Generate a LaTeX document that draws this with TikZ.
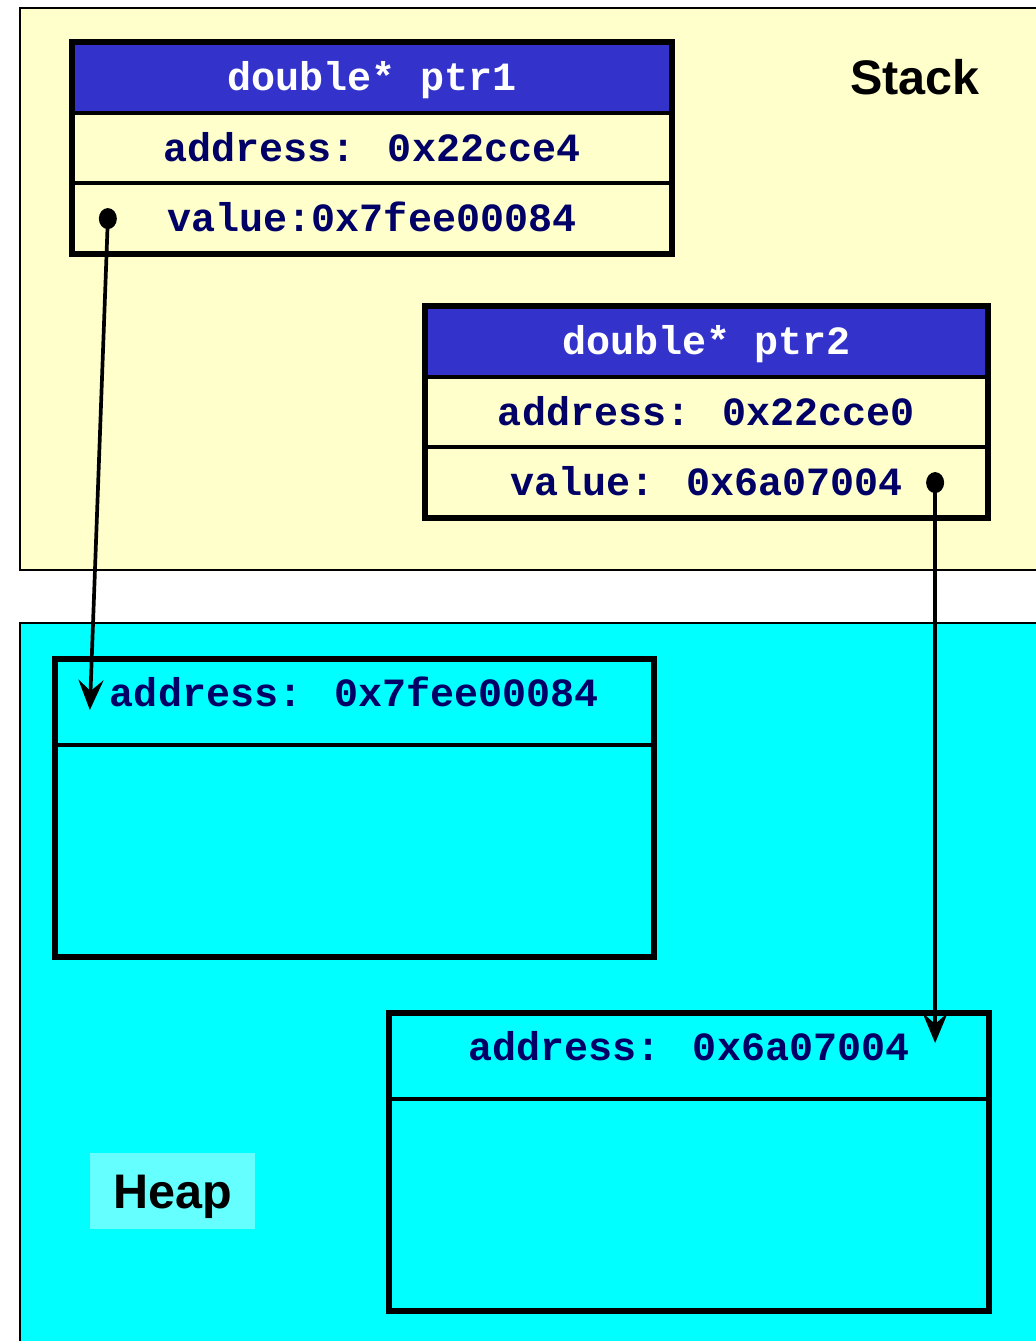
\documentclass[tikz,border=0pt]{standalone}
\usepackage{fontspec}
\setmainfont{Liberation Sans}
\newfontfamily\codefont{Liberation Mono}
\usetikzlibrary{arrows.meta,positioning}
\definecolor{stackbg}{HTML}{FFFFCC}
\definecolor{heapbg}{HTML}{00FFFF}
\definecolor{heaplabelbg}{HTML}{66FFFF}
\definecolor{headblue}{HTML}{3333CC}
\definecolor{codenavy}{HTML}{000066}
\begin{document}
\begin{tikzpicture}
[x=0.01cm,y=-0.01cm,
  regiondecorate/.style={draw=black,line width=0.6pt},%
  celldecorate/.style={rectangle,draw=black,line width=0.9pt,inner sep=0pt,outer sep=0pt,
    text height=0.36cm,text depth=0.1cm,text=codenavy,
    font=\codefont\bfseries\fontsize{11.4}{12}\selectfont},%
  headdecorate/.style={celldecorate,fill=headblue,text=white},%
  framedecorate/.style={draw=black,line width=1.7pt},%
  linedecorate/.style={-{Stealth[length=0.3cm,width=0.25cm,inset=0.11cm]},line width=1.05pt},%
  regionlabel/.style={font=\bfseries\fontsize{13.8}{15}\selectfont,text=black,
    text height=0.35cm,text depth=0pt}]
\useasboundingbox (0,0) rectangle (1036,1341);
\clip (0,0) rectangle (1036,1341);
%% memory regions
\draw[regiondecorate,fill=stackbg] (20,8) rectangle (1070,570);
\draw[regiondecorate,fill=heapbg] (20,623) rectangle (1070,1380);
\node[regionlabel] (stack) at (915,77) {Stack};
\node[regionlabel,fill=heaplabelbg,minimum width=1.65cm,minimum height=0.76cm] (heap) at (172.5,1191) {Heap};
%% pointer variables on the stack
\foreach \nodename/\x/\y/\w/\varname/\addr/\val in
  {p1/372/77.5/6/double* ptr1/address: 0x22cce4/value:0x7fee00084,
   p2/706.5/341.5/5.63/double* ptr2/address: 0x22cce0/value: 0x6a07004} {
  \node[headdecorate,minimum width=\w cm,minimum height=0.71cm] (\nodename-h) at (\x,\y) {\varname};
  \node[celldecorate,minimum width=\w cm,minimum height=0.70cm,below=0pt of \nodename-h] (\nodename-a) {\addr};
  \node[celldecorate,minimum width=\w cm,minimum height=0.71cm,below=0pt of \nodename-a] (\nodename-v) {\val};
  \draw[framedecorate] (\nodename-h.north west) rectangle (\nodename-v.south east);
}
%% allocated blocks on the heap
\foreach \nodename/\x/\y/\w/\addr in
  {h1/354.5/702/5.99/address: 0x7fee00084,
   h2/689/1056/6/address: 0x6a07004} {
  \node[celldecorate,text depth=0.28cm,minimum width=\w cm,minimum height=0.86cm] (\nodename-a) at (\x,\y) {\addr};
  \node[celldecorate,minimum width=\w cm,minimum height=2.12cm,below=0pt of \nodename-a] (\nodename-b) {};
  \draw[framedecorate] (\nodename-a.north west) rectangle (\nodename-b.south east);
}
%% pointers
\coordinate (p1dot) at ([xshift=0.36cm]p1-v.west);
\coordinate (h1tip) at ([xshift=0.35cm,yshift=-0.51cm]h1-a.north west);
\coordinate (p2dot) at ([xshift=-0.53cm]p2-v.east);
\path (p2dot |- h2-a.north) ++(0,30) coordinate (h2tip);
\fill (p1dot) circle[x radius=9,y radius=10.5];
\fill (p2dot) circle[x radius=9,y radius=10.5];
\draw[linedecorate] (p1dot) -- (h1tip);
\draw[linedecorate] (p2dot) -- (h2tip);
\end{tikzpicture}
\end{document}
